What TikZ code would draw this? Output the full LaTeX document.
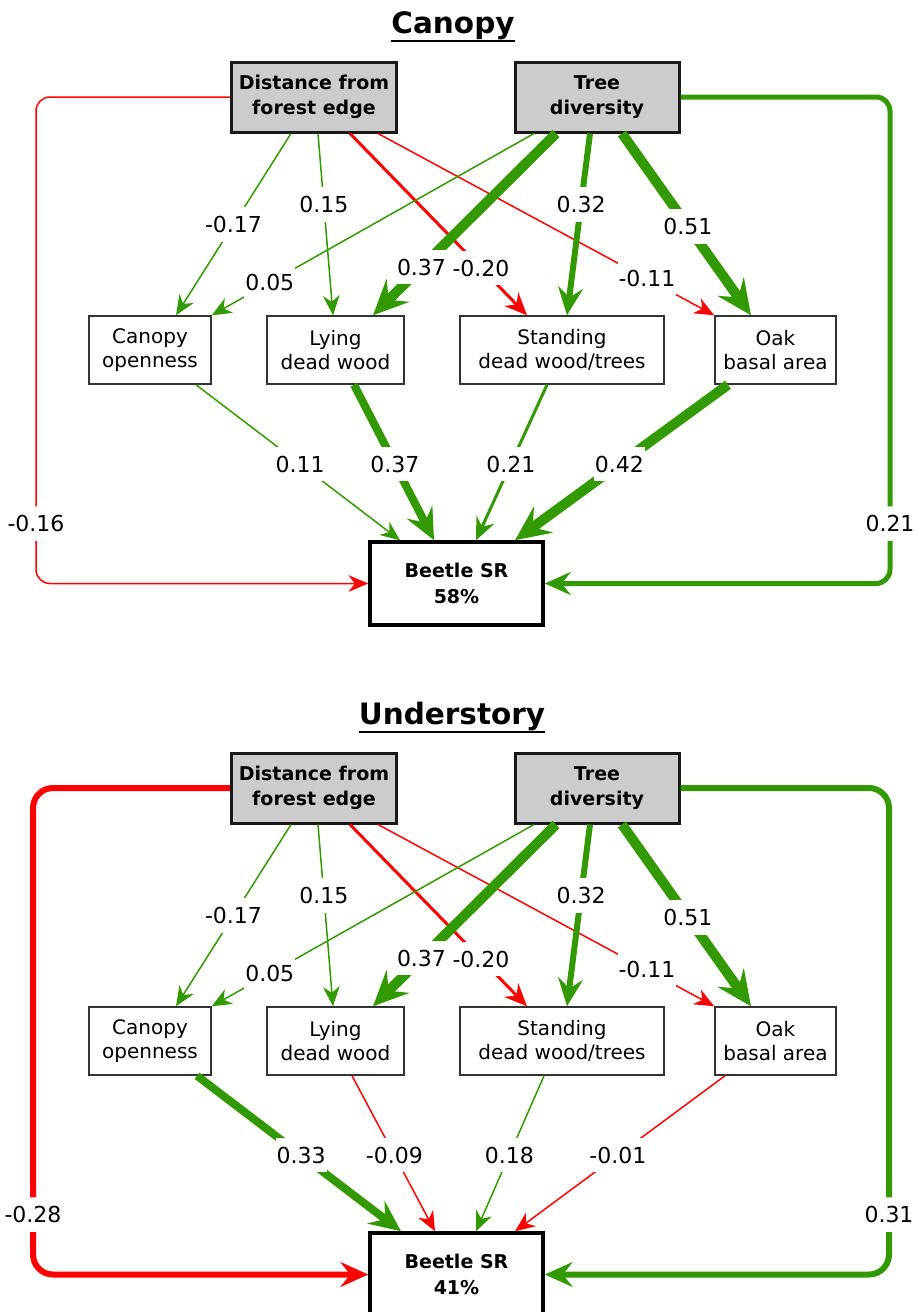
\documentclass[tikz,border=0pt]{standalone}
\usepackage{fontspec}
\setmainfont{DejaVu Sans}
\usepackage{tikz}
\usetikzlibrary{arrows.meta}

\definecolor{gaingreen}{RGB}{51,153,0}
\definecolor{lossred}{RGB}{255,0,0}
\definecolor{boxgray}{RGB}{204,204,204}

\tikzset{
  driver/.style={draw=black!90, fill=boxgray, line width=3pt, minimum width=165pt,
    minimum height=70pt, align=center, font=\bfseries\fontsize{19}{25}\selectfont},
  habitat/.style={draw=black!80, line width=1.5pt, minimum height=68pt, align=center,
    font=\fontsize{20}{24}\selectfont},
  response/.style={draw=black, line width=3.5pt, minimum width=173pt, minimum height=83pt,
    align=center, font=\bfseries\fontsize{19}{26}\selectfont},
  effect/.style={line width=#1, -{Stealth[length=17pt 1.8, width=14pt 1.8, inset=5pt 0.8]}},
  gain/.style={effect=#1, draw=gaingreen},
  loss/.style={effect=#1, draw=lossred},
  coef/.style={fill=white, inner xsep=1pt, inner ysep=9pt, font=\fontsize{22}{26}\selectfont},
  heading/.style={anchor=base, inner sep=0pt, font=\bfseries\fontsize{29.5}{32}\selectfont}
}

\begin{document}
\begin{tikzpicture}[x=1pt, y=-1pt]
  \useasboundingbox (0,0) rectangle (920,1312);
  \clip (0,0) rectangle (920,1312);

  % canopy
  \node[heading] (title1) at (453,33) {Canopy};
  \draw[line width=2pt] ([yshift=-8pt]title1.base west) -- ([yshift=-8pt]title1.base east);

  \node[driver] (dist1) at (314,97) {Distance from\\forest edge};
  \node[driver, minimum width=164pt] (tree1) at (597,97) {Tree\\diversity};
  \node[habitat, minimum width=122pt] (open1) at (150,350) {Canopy\\openness};
  \node[habitat, minimum width=137pt] (lying1) at (335.5,350) {Lying\\dead wood};
  \node[habitat, minimum width=204pt] (stand1) at (562,350) {Standing\\dead wood/trees};
  \node[habitat, minimum width=121pt] (oak1) at (775.5,350) {Oak\\basal area};
  \node[response] (beetle1) at (456.5,583.5) {Beetle SR\\58\%};

  \draw[gain=1.5pt] ([xshift=-23pt]dist1.south) -- node[coef, pos=.5] {-0.17} ([xshift=26pt]open1.north);
  \draw[gain=1.5pt] ([xshift=4pt]dist1.south) -- node[coef, pos=.39] {0.15} ([xshift=-2.5pt]lying1.north);
  \draw[loss=3pt] ([xshift=36pt]dist1.south) -- node[coef, pos=.74] {-0.20} ([xshift=-35pt]stand1.north);
  \draw[loss=1.5pt] ([xshift=64pt]dist1.south) -- node[coef, pos=.8] {-0.11} (oak1.north west);

  \draw[gain=1.5pt] ([xshift=-63pt]tree1.south) -- node[coef, pos=.82] {0.05} (open1.north east);
  \draw[gain=10pt] ([xshift=-41pt]tree1.south) -- node[coef, pos=.735] {0.37} ([xshift=37.5pt]lying1.north);
  \draw[gain=6pt] ([xshift=-7pt]tree1.south) -- node[coef, pos=.39] {0.32} ([xshift=5pt]stand1.north);
  \draw[gain=10pt] ([xshift=25pt]tree1.south) -- node[coef, pos=.51] {0.51} ([xshift=-24.5pt]oak1.north);

  \draw[gain=1.5pt] ([xshift=46pt]open1.south) -- node[coef, pos=.51] {0.11} ([xshift=-56.5pt]beetle1.north);
  \draw[gain=8pt] ([xshift=18.5pt]lying1.south) -- node[coef, pos=.51] {0.37} ([xshift=-22.5pt]beetle1.north);
  \draw[gain=3pt] ([xshift=-15pt]stand1.south) -- node[coef, pos=.51] {0.21} ([xshift=19.5pt]beetle1.north);
  \draw[gain=10pt] ([xshift=-47.5pt]oak1.south) -- node[coef, pos=.51] {0.42} ([xshift=58.5pt]beetle1.north);

  \draw[loss=1.5pt, rounded corners=14pt] (dist1.west) -- (36,97) -- node[coef, pos=.877] {-0.16} (36,583.5) -- (beetle1.west);
  \draw[gain=5pt, rounded corners=14pt] (tree1.east) -- (890,97) -- node[coef, pos=.877] {0.21} (890,583.5) -- (beetle1.east);

  % understory
  \begin{scope}[yshift=-691pt]
    \node[heading] (title2) at (452,33) {Understory};
    \draw[line width=2pt] ([yshift=-8pt]title2.base west) -- ([yshift=-8pt]title2.base east);

    \node[driver] (dist2) at (314,97) {Distance from\\forest edge};
    \node[driver, minimum width=164pt] (tree2) at (597,97) {Tree\\diversity};
    \node[habitat, minimum width=122pt] (open2) at (150,350) {Canopy\\openness};
    \node[habitat, minimum width=137pt] (lying2) at (335.5,350) {Lying\\dead wood};
    \node[habitat, minimum width=204pt] (stand2) at (562,350) {Standing\\dead wood/trees};
    \node[habitat, minimum width=121pt] (oak2) at (775.5,350) {Oak\\basal area};
    \node[response] (beetle2) at (456.5,583.5) {Beetle SR\\41\%};

    \draw[gain=1.5pt] ([xshift=-23pt]dist2.south) -- node[coef, pos=.5] {-0.17} ([xshift=26pt]open2.north);
    \draw[gain=1.5pt] ([xshift=4pt]dist2.south) -- node[coef, pos=.39] {0.15} ([xshift=-2.5pt]lying2.north);
    \draw[loss=3pt] ([xshift=36pt]dist2.south) -- node[coef, pos=.74] {-0.20} ([xshift=-35pt]stand2.north);
    \draw[loss=1.5pt] ([xshift=64pt]dist2.south) -- node[coef, pos=.8] {-0.11} (oak2.north west);

    \draw[gain=1.5pt] ([xshift=-63pt]tree2.south) -- node[coef, pos=.82] {0.05} (open2.north east);
    \draw[gain=10pt] ([xshift=-41pt]tree2.south) -- node[coef, pos=.735] {0.37} ([xshift=37.5pt]lying2.north);
    \draw[gain=6pt] ([xshift=-7pt]tree2.south) -- node[coef, pos=.39] {0.32} ([xshift=5pt]stand2.north);
    \draw[gain=10pt] ([xshift=25pt]tree2.south) -- node[coef, pos=.51] {0.51} ([xshift=-24.5pt]oak2.north);

    \draw[gain=8pt] ([xshift=47pt]open2.south) -- node[coef, pos=.51] {0.33} ([xshift=-55.5pt]beetle2.north);
    \draw[loss=1.5pt] ([xshift=16.5pt]lying2.south) -- node[coef, pos=.51] {-0.09} ([xshift=-21.5pt]beetle2.north);
    \draw[gain=1.5pt] ([xshift=-18pt]stand2.south) -- node[coef, pos=.51] {0.18} ([xshift=19.5pt]beetle2.north);
    \draw[loss=1.5pt] ([xshift=-50.5pt]oak2.south) -- node[coef, pos=.51] {-0.01} ([xshift=58.5pt]beetle2.north);

    \draw[loss=6pt, rounded corners=20pt] (dist2.west) -- (33,97) -- node[coef, pos=.877] {-0.28} (33,583.5) -- (beetle2.west);
    \draw[gain=6pt, rounded corners=20pt] (tree2.east) -- (889,97) -- node[coef, pos=.877] {0.31} (889,583.5) -- (beetle2.east);
  \end{scope}
\end{tikzpicture}
\end{document}
